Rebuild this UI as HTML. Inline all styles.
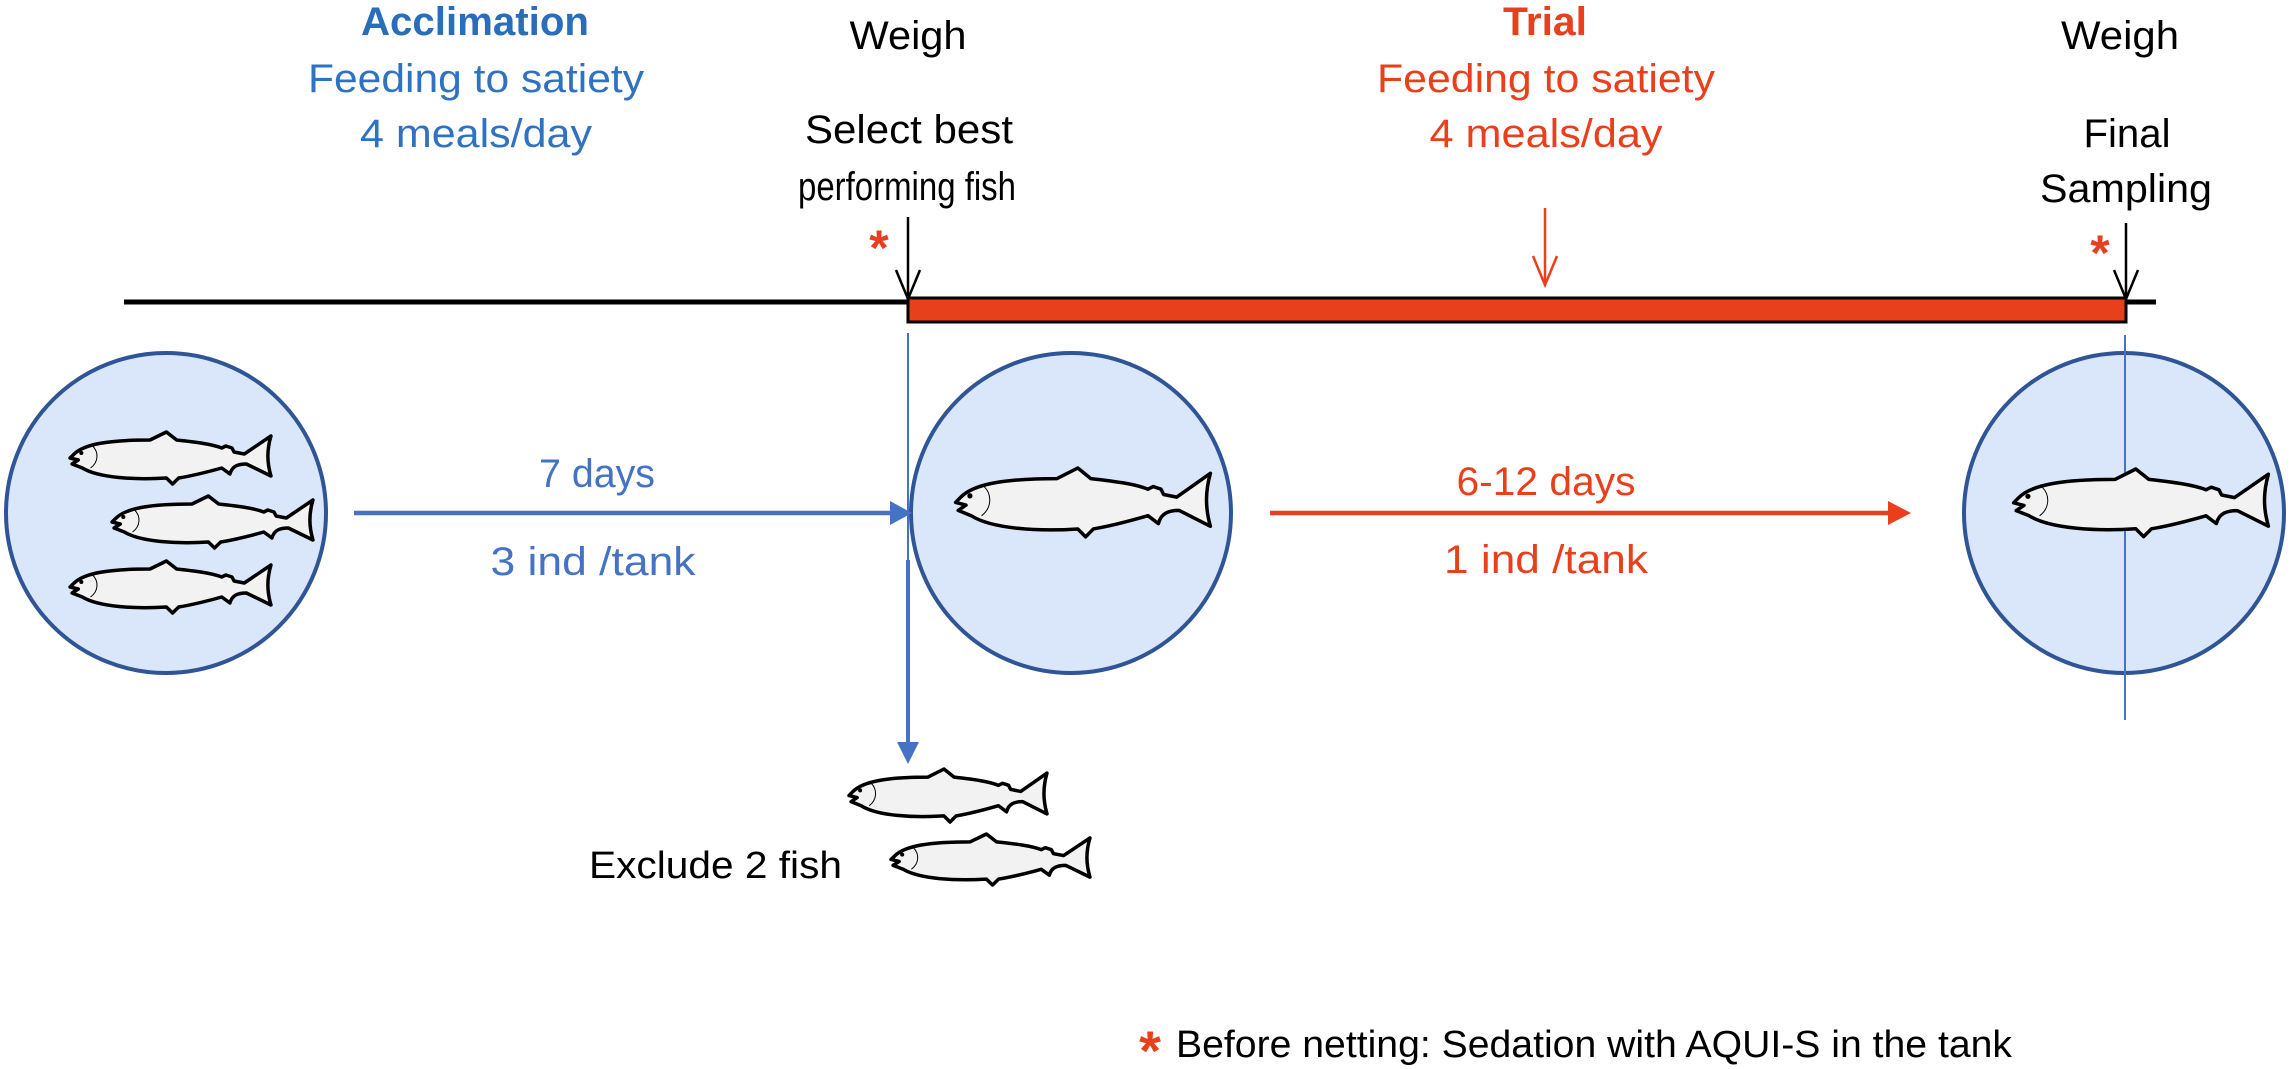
<!DOCTYPE html>
<html><head><meta charset="utf-8"><style>
html,body{margin:0;padding:0;background:#fff;}
svg{display:block;}
text{font-family:"Liberation Sans",sans-serif;}
</style></head><body>
<svg width="2290" height="1069" viewBox="0 0 2290 1069" xmlns="http://www.w3.org/2000/svg">
<defs>
<g id="fish">
<path d="M3,11 C8,6 20,4 40,4 L48,0 L53,4 C62,5 70,6 75,8 L77,7 L80,8 L81,10 L86,11 L99,2 C97,9 97,15 99,22 L87,16 C83,16 80,17 79,21 L75,18 C68,20 60,22 54,23 L51,26 L48,23 C33,24 15,23 7,18 L2,16 L5,14 L1,13 Z" fill="#F2F2F2" stroke="#000" stroke-width="3.5" vector-effect="non-scaling-stroke" stroke-linejoin="round"/>
<circle cx="6.5" cy="10.5" r="1" fill="#000"/>
<path d="M12,7 C15,10 15,15 11,18" fill="none" stroke="#000" stroke-width="1" vector-effect="non-scaling-stroke"/>
</g>
</defs>

<text x="475" y="35" font-size="40" font-weight="bold" fill="#2A6EBB" text-anchor="middle" textLength="228" lengthAdjust="spacingAndGlyphs">Acclimation</text>
<text x="476" y="92" font-size="40" fill="#2F72C2" text-anchor="middle" textLength="336" lengthAdjust="spacingAndGlyphs">Feeding to satiety</text>
<text x="476" y="147" font-size="40" fill="#2F72C2" text-anchor="middle" textLength="232" lengthAdjust="spacingAndGlyphs">4 meals/day</text>

<text x="908" y="49" font-size="40" fill="#000" text-anchor="middle" textLength="117" lengthAdjust="spacingAndGlyphs">Weigh</text>
<text x="909" y="143" font-size="40" fill="#000" text-anchor="middle" textLength="208" lengthAdjust="spacingAndGlyphs">Select best</text>
<text x="907" y="200" font-size="40" fill="#000" text-anchor="middle" textLength="218" lengthAdjust="spacingAndGlyphs">performing fish</text>
<text x="879" y="265" font-size="50" font-weight="bold" fill="#E8401C" text-anchor="middle">*</text>

<text x="1545" y="35" font-size="40" font-weight="bold" fill="#E8401C" text-anchor="middle" textLength="84" lengthAdjust="spacingAndGlyphs">Trial</text>
<text x="1546" y="92" font-size="40" fill="#E8401C" text-anchor="middle" textLength="338" lengthAdjust="spacingAndGlyphs">Feeding to satiety</text>
<text x="1546" y="147" font-size="40" fill="#E8401C" text-anchor="middle" textLength="233" lengthAdjust="spacingAndGlyphs">4 meals/day</text>

<text x="2120" y="49" font-size="40" fill="#000" text-anchor="middle" textLength="118" lengthAdjust="spacingAndGlyphs">Weigh</text>
<text x="2127" y="147" font-size="40" fill="#000" text-anchor="middle" textLength="87" lengthAdjust="spacingAndGlyphs">Final</text>
<text x="2126" y="202" font-size="40" fill="#000" text-anchor="middle" textLength="172" lengthAdjust="spacingAndGlyphs">Sampling</text>
<text x="2100" y="270" font-size="50" font-weight="bold" fill="#E8401C" text-anchor="middle">*</text>

<g stroke="#000" stroke-width="2.5" fill="none">
<line x1="908" y1="217" x2="908" y2="299"/>
<polyline points="896,270 908,299 920,270"/>
<line x1="2126" y1="223" x2="2126" y2="299"/>
<polyline points="2114,270 2126,299 2138,270"/>
</g>
<g stroke="#E8401C" stroke-width="2.5" fill="none">
<line x1="1545" y1="208" x2="1545" y2="285"/>
<polyline points="1533,256 1545,285 1557,256"/>
</g>

<line x1="124" y1="302" x2="2156" y2="302" stroke="#000" stroke-width="5"/>
<rect x="908" y="298" width="1218" height="24" fill="#E8401C" stroke="#000" stroke-width="3"/>

<circle cx="166" cy="513" r="160" fill="#DAE6FA" stroke="#2F5597" stroke-width="4"/>
<circle cx="1071" cy="513" r="160" fill="#DAE6FA" stroke="#2F5597" stroke-width="4"/>
<circle cx="2124" cy="513" r="160" fill="#DAE6FA" stroke="#2F5597" stroke-width="4"/>

<line x1="908" y1="333" x2="908" y2="560" stroke="#4472C4" stroke-width="2"/>
<line x1="908" y1="560" x2="908" y2="745" stroke="#4472C4" stroke-width="4"/>
<polygon points="897,742 919,742 908,764" fill="#4472C4"/>
<line x1="2125" y1="335" x2="2125" y2="720" stroke="#4472C4" stroke-width="2"/>

<line x1="354" y1="513" x2="895" y2="513" stroke="#4472C4" stroke-width="4.5"/>
<polygon points="890,501 912,513 890,525" fill="#4472C4"/>
<text x="597" y="487" font-size="40" fill="#4472C4" text-anchor="middle" textLength="116" lengthAdjust="spacingAndGlyphs">7 days</text>
<text x="593" y="575" font-size="40" fill="#4472C4" text-anchor="middle" textLength="205" lengthAdjust="spacingAndGlyphs">3 ind /tank</text>

<line x1="1270" y1="513" x2="1892" y2="513" stroke="#E8401C" stroke-width="4.5"/>
<polygon points="1888,501 1911,513 1888,525" fill="#E8401C"/>
<text x="1546" y="495" font-size="40" fill="#E8401C" text-anchor="middle" textLength="179" lengthAdjust="spacingAndGlyphs">6-12 days</text>
<text x="1546" y="573" font-size="40" fill="#E8401C" text-anchor="middle" textLength="204" lengthAdjust="spacingAndGlyphs">1 ind /tank</text>

<use href="#fish" transform="translate(68,432) scale(2.05,2.0)"/>
<use href="#fish" transform="translate(110,496) scale(2.05,2.0)"/>
<use href="#fish" transform="translate(68,561) scale(2.05,2.0)"/>
<use href="#fish" transform="translate(953,468) scale(2.6,2.65)"/>
<use href="#fish" transform="translate(2011,469) scale(2.6,2.6)"/>
<use href="#fish" transform="translate(847,769) scale(2.02,2.04)"/>
<use href="#fish" transform="translate(889,834) scale(2.03,1.96)"/>

<text x="589" y="878" font-size="38" fill="#000" textLength="253" lengthAdjust="spacingAndGlyphs">Exclude 2 fish</text>

<text x="1150" y="1070" font-size="56" font-weight="bold" fill="#E8401C" text-anchor="middle">*</text>
<text x="1176" y="1057" font-size="38" fill="#000" textLength="836" lengthAdjust="spacingAndGlyphs">Before netting: Sedation with AQUI-S in the tank</text>
</svg>
</body></html>
